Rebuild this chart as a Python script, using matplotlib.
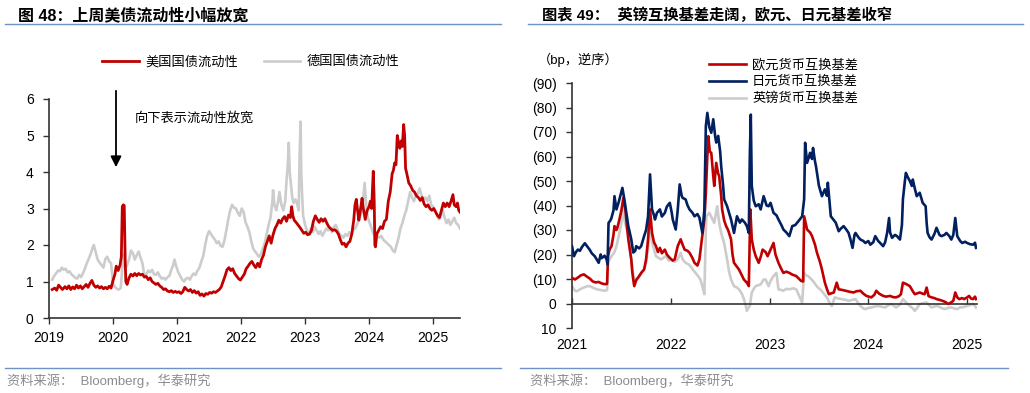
import matplotlib
matplotlib.use("Agg")
import matplotlib.pyplot as plt
from matplotlib.lines import Line2D
from matplotlib.ticker import FuncFormatter

plt.rcParams["font.family"] = ["Liberation Sans", "Noto Sans CJK SC", "DejaVu Sans"]

# ---- 图48 数据: 美国/德国国债流动性 (年份小数) ----
us_x = [2019.05, 2019.09, 2019.12, 2019.15, 2019.18, 2019.21, 2019.25, 2019.28, 2019.31, 2019.34,
        2019.37, 2019.40, 2019.43, 2019.46, 2019.49, 2019.52, 2019.55, 2019.58, 2019.61, 2019.64,
        2019.67, 2019.70, 2019.73, 2019.76, 2019.79, 2019.82, 2019.85, 2019.88, 2019.91, 2019.94,
        2019.97, 2020.00, 2020.03, 2020.05, 2020.08, 2020.11, 2020.13, 2020.145, 2020.16, 2020.175,
        2020.19, 2020.20, 2020.22, 2020.25, 2020.28, 2020.31, 2020.34, 2020.37, 2020.40, 2020.43,
        2020.46, 2020.49, 2020.52, 2020.55, 2020.58, 2020.61, 2020.64, 2020.67, 2020.70, 2020.73,
        2020.76, 2020.79, 2020.82, 2020.85, 2020.88, 2020.91, 2020.94, 2020.97, 2021.00, 2021.03,
        2021.06, 2021.09, 2021.12, 2021.15, 2021.18, 2021.21, 2021.24, 2021.27, 2021.30, 2021.33,
        2021.36, 2021.39, 2021.42, 2021.45, 2021.48, 2021.51, 2021.54, 2021.57, 2021.60, 2021.63,
        2021.66, 2021.69, 2021.72, 2021.75, 2021.78, 2021.81, 2021.84, 2021.87, 2021.90, 2021.93,
        2021.96, 2021.99, 2022.02, 2022.05, 2022.08, 2022.11, 2022.14, 2022.17, 2022.20, 2022.23,
        2022.26, 2022.29, 2022.32, 2022.35, 2022.38, 2022.41, 2022.44, 2022.47, 2022.50, 2022.53,
        2022.56, 2022.59, 2022.62, 2022.65, 2022.68, 2022.71, 2022.74, 2022.77, 2022.79, 2022.81,
        2022.83, 2022.86, 2022.89, 2022.92, 2022.95, 2022.98, 2023.01, 2023.04, 2023.07, 2023.10,
        2023.13, 2023.16, 2023.19, 2023.22, 2023.25, 2023.28, 2023.31, 2023.34, 2023.37, 2023.40,
        2023.43, 2023.46, 2023.49, 2023.52, 2023.55, 2023.58, 2023.61, 2023.64, 2023.67, 2023.70,
        2023.73, 2023.76, 2023.78, 2023.80, 2023.82, 2023.84, 2023.86, 2023.89, 2023.91, 2023.94,
        2023.97, 2024.00, 2024.02, 2024.04, 2024.065, 2024.08, 2024.09, 2024.10, 2024.12, 2024.15,
        2024.18, 2024.21, 2024.24, 2024.27, 2024.30, 2024.33, 2024.36, 2024.38, 2024.40, 2024.42,
        2024.44, 2024.46, 2024.48, 2024.50, 2024.52, 2024.54, 2024.555, 2024.57, 2024.59, 2024.62,
        2024.65, 2024.68, 2024.71, 2024.74, 2024.77, 2024.80, 2024.83, 2024.86, 2024.89, 2024.92,
        2024.95, 2024.98, 2025.01, 2025.04, 2025.07, 2025.10, 2025.13, 2025.16, 2025.19, 2025.22,
        2025.25, 2025.28, 2025.31, 2025.33, 2025.36, 2025.38, 2025.40, 2025.42]
us_y = [0.78, 0.82, 0.76, 0.90, 0.84, 0.78, 0.86, 0.80, 0.88, 0.78,
        0.85, 0.80, 0.90, 0.82, 0.88, 0.80, 0.86, 0.92, 0.84, 0.95,
        1.03, 0.90, 0.84, 0.88, 0.82, 0.86, 0.80, 0.84, 0.80, 0.87,
        0.82, 1.03, 1.20, 1.42, 1.30, 1.45, 1.68, 3.05, 3.10, 3.08,
        1.60, 1.00, 0.92, 1.10, 1.20, 1.15, 1.22, 1.16, 1.22, 1.18,
        1.20, 1.12, 1.14, 1.05, 1.10, 1.00, 0.96, 0.92, 0.95, 0.88,
        0.84, 0.78, 0.80, 0.74, 0.72, 0.75, 0.70, 0.73, 0.70, 0.72,
        0.67, 0.72, 0.84, 0.78, 0.74, 0.78, 0.70, 0.75, 0.68, 0.72,
        0.62, 0.66, 0.60, 0.67, 0.65, 0.70, 0.68, 0.72, 0.70, 0.74,
        0.78, 0.85, 1.00, 1.15, 1.32, 1.38, 1.30, 1.35, 1.22, 1.15,
        1.08, 1.04, 1.12, 1.20, 1.35, 1.42, 1.50, 1.55, 1.45, 1.38,
        1.50, 1.40, 1.60, 1.72, 1.95, 2.10, 2.25, 2.05, 2.28, 2.45,
        2.55, 2.68, 2.60, 2.72, 2.78, 2.65, 2.82, 2.75, 3.05, 2.80,
        2.68, 2.62, 2.55, 2.48, 2.40, 2.32, 2.35, 2.28, 2.30, 2.40,
        2.65, 2.80, 2.70, 2.62, 2.72, 2.65, 2.72, 2.60, 2.50, 2.45,
        2.40, 2.42, 2.38, 2.30, 2.15, 2.02, 2.05, 1.95, 2.05, 2.10,
        2.30, 2.68, 3.10, 3.25, 2.95, 2.68, 2.90, 3.28, 3.00, 2.70,
        2.95, 3.05, 3.20, 3.00, 4.02, 3.20, 2.00, 1.95, 2.30, 2.40,
        2.50, 2.45, 2.65, 2.70, 3.20, 3.45, 3.95, 4.05, 4.25, 4.20,
        5.00, 4.80, 4.65, 4.85, 4.70, 5.30, 5.00, 4.10, 3.95, 3.70,
        3.62, 3.50, 3.45, 3.35, 3.30, 3.22, 3.30, 3.12, 3.05, 3.10,
        3.00, 2.95, 3.00, 2.90, 2.80, 2.75, 2.95, 3.15, 3.05, 3.15,
        3.05, 3.20, 3.38, 3.10, 3.05, 3.15, 2.95, 2.90]

de_x = [2019.05, 2019.08, 2019.11, 2019.14, 2019.17, 2019.20, 2019.23, 2019.26, 2019.29, 2019.32,
        2019.35, 2019.38, 2019.41, 2019.44, 2019.47, 2019.50, 2019.53, 2019.56, 2019.59, 2019.62,
        2019.65, 2019.68, 2019.70, 2019.73, 2019.76, 2019.79, 2019.82, 2019.85, 2019.88, 2019.91,
        2019.94, 2019.97, 2020.00, 2020.03, 2020.06, 2020.09, 2020.12, 2020.15, 2020.17, 2020.19,
        2020.22, 2020.25, 2020.28, 2020.31, 2020.34, 2020.37, 2020.40, 2020.43, 2020.46, 2020.49,
        2020.52, 2020.55, 2020.58, 2020.61, 2020.64, 2020.67, 2020.70, 2020.73, 2020.76, 2020.79,
        2020.82, 2020.85, 2020.88, 2020.91, 2020.94, 2020.96, 2020.99, 2021.02, 2021.05, 2021.08,
        2021.11, 2021.14, 2021.17, 2021.20, 2021.23, 2021.26, 2021.29, 2021.32, 2021.35, 2021.38,
        2021.41, 2021.44, 2021.47, 2021.50, 2021.53, 2021.56, 2021.59, 2021.62, 2021.65, 2021.68,
        2021.71, 2021.74, 2021.77, 2021.80, 2021.83, 2021.86, 2021.89, 2021.92, 2021.95, 2021.98,
        2022.01, 2022.04, 2022.07, 2022.10, 2022.13, 2022.16, 2022.19, 2022.22, 2022.25, 2022.28,
        2022.31, 2022.34, 2022.37, 2022.40, 2022.43, 2022.46, 2022.49, 2022.50, 2022.52, 2022.55,
        2022.58, 2022.60, 2022.63, 2022.66, 2022.69, 2022.71, 2022.73, 2022.745, 2022.76, 2022.78,
        2022.80, 2022.82, 2022.85, 2022.88, 2022.90, 2022.915, 2022.93, 2022.94, 2022.955, 2022.97,
        2023.00, 2023.03, 2023.06, 2023.09, 2023.12, 2023.15, 2023.18, 2023.21, 2023.24, 2023.27,
        2023.30, 2023.33, 2023.36, 2023.39, 2023.42, 2023.45, 2023.48, 2023.51, 2023.54, 2023.57,
        2023.60, 2023.63, 2023.66, 2023.69, 2023.72, 2023.75, 2023.78, 2023.81, 2023.84, 2023.87,
        2023.90, 2023.93, 2023.95, 2023.98, 2024.01, 2024.04, 2024.07, 2024.10, 2024.13, 2024.16,
        2024.19, 2024.22, 2024.25, 2024.28, 2024.31, 2024.34, 2024.37, 2024.40, 2024.43, 2024.46,
        2024.49, 2024.52, 2024.55, 2024.58, 2024.61, 2024.64, 2024.67, 2024.70, 2024.73, 2024.76,
        2024.79, 2024.82, 2024.85, 2024.88, 2024.91, 2024.94, 2024.97, 2025.00, 2025.03, 2025.06,
        2025.09, 2025.12, 2025.15, 2025.18, 2025.21, 2025.24, 2025.27, 2025.30, 2025.33, 2025.36,
        2025.39, 2025.42]
de_y = [1.05, 1.15, 1.22, 1.30, 1.28, 1.38, 1.32, 1.35, 1.25, 1.28,
        1.20, 1.15, 1.10, 1.08, 1.18, 1.12, 1.22, 1.35, 1.50, 1.62,
        1.75, 1.92, 2.00, 1.80, 1.60, 1.52, 1.45, 1.38, 1.62, 1.68,
        1.55, 1.50, 0.95, 0.85, 0.80, 0.78, 0.82, 1.50, 1.75, 1.36,
        1.45, 1.60, 1.85, 1.78, 1.60, 1.72, 1.82, 1.65, 1.50, 1.15,
        1.20, 1.30, 1.25, 1.32, 1.20, 1.18, 1.25, 1.15, 1.08, 1.10,
        1.05, 1.12, 1.15, 1.32, 1.45, 1.60, 1.40, 1.25, 1.15, 1.05,
        1.00, 1.08, 1.10, 1.05, 1.15, 1.22, 1.18, 1.30, 1.38, 1.55,
        1.70, 2.00, 2.25, 2.38, 2.30, 2.22, 2.15, 2.05, 2.10, 1.98,
        1.95, 2.12, 2.40, 2.70, 2.95, 3.10, 3.02, 3.00, 2.88, 2.80,
        3.00, 2.90, 2.62, 2.50, 2.35, 2.10, 1.90, 1.82, 1.75, 1.68,
        1.75, 1.90, 2.05, 2.30, 2.55, 2.75, 3.20, 3.50, 3.10, 2.95,
        3.20, 3.45, 3.10, 2.95, 3.20, 3.75, 4.20, 4.80, 4.00, 3.65,
        3.30, 3.15, 3.25, 3.10, 2.95, 4.50, 5.38, 4.00, 3.30, 2.80,
        2.55, 2.40, 2.30, 2.45, 2.35, 2.50, 2.40, 2.30, 2.38, 2.25,
        2.35, 2.45, 2.40, 2.45, 2.35, 2.50, 2.55, 2.40, 2.30, 2.25,
        2.20, 2.30, 2.25, 2.35, 2.28, 2.40, 2.45, 2.55, 2.70, 2.85,
        3.10, 3.70, 3.20, 2.75, 2.60, 2.45, 2.30, 2.35, 2.25, 2.20,
        2.25, 2.15, 2.10, 2.05, 2.00, 1.95, 1.85, 1.80, 2.00, 2.20,
        2.45, 2.60, 2.80, 2.95, 3.20, 3.45, 3.30, 3.20, 3.35, 3.40,
        3.55, 3.35, 3.25, 3.30, 3.20, 3.35, 3.10, 3.05, 2.95, 2.85,
        2.70, 2.80, 2.95, 2.75, 2.60, 2.70, 2.55, 2.65, 2.75, 2.60,
        2.55, 2.45]

years_left = [2019, 2020, 2021, 2022, 2023, 2024, 2025]

# ---- 图表49 数据: 货币互换基差 (bp) ----
eur_x = [2021.00, 2021.03, 2021.06, 2021.09, 2021.12, 2021.15, 2021.18, 2021.21, 2021.24, 2021.27,
         2021.30, 2021.33, 2021.355, 2021.365, 2021.38, 2021.40, 2021.42, 2021.43, 2021.45, 2021.46,
         2021.48, 2021.50, 2021.52, 2021.54, 2021.555, 2021.57, 2021.585, 2021.60, 2021.61, 2021.62,
         2021.63, 2021.65, 2021.68, 2021.70, 2021.73, 2021.75, 2021.77, 2021.79, 2021.81, 2021.83,
         2021.85, 2021.87, 2021.89, 2021.91, 2021.94, 2021.96, 2021.99, 2022.02, 2022.04, 2022.07,
         2022.10, 2022.12, 2022.14, 2022.17, 2022.19, 2022.22, 2022.24, 2022.27, 2022.29, 2022.31,
         2022.34, 2022.355, 2022.37, 2022.38, 2022.395, 2022.41, 2022.43, 2022.44, 2022.46, 2022.48,
         2022.49, 2022.51, 2022.52, 2022.54, 2022.56, 2022.58, 2022.61, 2022.625, 2022.64, 2022.67,
         2022.69, 2022.72, 2022.74, 2022.77, 2022.79, 2022.805, 2022.82, 2022.84, 2022.86, 2022.89,
         2022.91, 2022.93, 2022.96, 2022.98, 2023.01, 2023.04, 2023.06, 2023.09, 2023.12, 2023.14,
         2023.17, 2023.20, 2023.23, 2023.27, 2023.30, 2023.32, 2023.34, 2023.35, 2023.37, 2023.38,
         2023.41, 2023.43, 2023.46, 2023.48, 2023.51, 2023.53, 2023.56, 2023.58, 2023.60, 2023.63,
         2023.65, 2023.68, 2023.70, 2023.74, 2023.77, 2023.81, 2023.85, 2023.88, 2023.92, 2023.95,
         2023.98, 2024.03, 2024.06, 2024.08, 2024.11, 2024.15, 2024.18, 2024.22, 2024.25, 2024.28,
         2024.31, 2024.33, 2024.35, 2024.38, 2024.42, 2024.45, 2024.47, 2024.50, 2024.52, 2024.55,
         2024.57, 2024.59, 2024.61, 2024.64, 2024.67, 2024.69, 2024.72, 2024.75, 2024.78, 2024.81,
         2024.84, 2024.86, 2024.88, 2024.90, 2024.92, 2024.95, 2024.97, 2025.00, 2025.02, 2025.04,
         2025.06, 2025.08, 2025.09]
eur_y = [-10.5, -9.8, -10.6, -11.5, -11.9, -11.0, -10.2, -9.0, -8.6, -8.8,
         -8.2, -7.9, -8.0, -19.3, -22.0, -23.4, -28.0, -31.6, -30.0, -31.0,
         -34.3, -38.0, -43.1, -38.4, -32.0, -26.2, -22.0, -18.0, -13.0, -9.8,
         -7.1, -9.5, -11.2, -12.5, -13.9, -18.0, -26.2, -38.4, -28.8, -25.0,
         -23.4, -21.0, -22.7, -20.5, -22.0, -20.0, -18.6, -17.5, -18.0, -23.4,
         -26.2, -24.0, -22.0, -21.5, -20.7, -18.5, -16.6, -15.5, -18.0, -24.7,
         -34.3, -45.0, -60.1, -68.3, -62.0, -61.5, -52.0, -48.0, -57.4, -53.0,
         -52.0, -44.0, -38.4, -34.0, -31.6, -30.0, -26.2, -20.0, -16.6, -15.0,
         -13.9, -11.5, -9.8, -8.5, -7.1, -38.4, -26.2, -22.0, -19.3, -16.6,
         -19.0, -22.0, -21.0, -19.3, -22.0, -24.7, -20.0, -16.6, -14.0, -12.5,
         -13.0, -12.5, -11.8, -11.2, -10.0, -9.2, -9.0, -35.6, -32.0, -30.2,
         -29.0, -27.5, -24.0, -20.7, -17.0, -13.9, -8.5, -6.0, -3.8, -4.2,
         -4.5, -8.5, -5.8, -5.5, -5.2, -4.8, -4.5, -5.0, -5.2, -4.0,
         -3.1, -2.5, -3.5, -5.2, -4.0, -3.1, -2.8, -3.1, -2.6, -2.5,
         -3.0, -3.8, -8.5, -8.0, -7.1, -5.0, -3.8, -4.2, -4.5, -4.0,
         -3.8, -6.5, -3.0, -2.5, -2.2, -1.8, -1.5, -1.1, -0.6, 0.2,
         -0.5, -1.1, -4.5, -2.5, -1.8, -2.2, -1.8, -2.5, -3.1, -2.0,
         -1.8, -2.8, -1.8]

jpy_x = [2021.00, 2021.02, 2021.04, 2021.06, 2021.08, 2021.10, 2021.13, 2021.15, 2021.18, 2021.20,
         2021.23, 2021.25, 2021.27, 2021.29, 2021.30, 2021.33, 2021.35, 2021.36, 2021.37, 2021.39,
         2021.40, 2021.42, 2021.43, 2021.45, 2021.47, 2021.48, 2021.51, 2021.53, 2021.55, 2021.57,
         2021.59, 2021.60, 2021.62, 2021.64, 2021.65, 2021.68, 2021.70, 2021.73, 2021.75, 2021.77,
         2021.79, 2021.81, 2021.83, 2021.84, 2021.86, 2021.89, 2021.91, 2021.94, 2021.96, 2021.99,
         2022.01, 2022.02, 2022.05, 2022.07, 2022.09, 2022.11, 2022.12, 2022.15, 2022.17, 2022.19,
         2022.22, 2022.24, 2022.27, 2022.29, 2022.32, 2022.34, 2022.355, 2022.37, 2022.39, 2022.41,
         2022.43, 2022.45, 2022.46, 2022.48, 2022.50, 2022.51, 2022.53, 2022.54, 2022.57, 2022.59,
         2022.61, 2022.64, 2022.67, 2022.70, 2022.72, 2022.75, 2022.77, 2022.79, 2022.80, 2022.81,
         2022.82, 2022.84, 2022.86, 2022.89, 2022.91, 2022.94, 2022.97, 2022.99, 2023.01, 2023.04,
         2023.07, 2023.09, 2023.12, 2023.14, 2023.17, 2023.20, 2023.23, 2023.26, 2023.28, 2023.31,
         2023.33, 2023.35, 2023.36, 2023.38, 2023.40, 2023.41, 2023.43, 2023.44, 2023.46, 2023.47,
         2023.50, 2023.53, 2023.56, 2023.58, 2023.59, 2023.61, 2023.62, 2023.65, 2023.67, 2023.70,
         2023.72, 2023.75, 2023.78, 2023.80, 2023.82, 2023.84, 2023.86, 2023.87, 2023.90, 2023.92,
         2023.95, 2023.97, 2024.00, 2024.02, 2024.05, 2024.07, 2024.10, 2024.12, 2024.15, 2024.17,
         2024.19, 2024.21, 2024.22, 2024.24, 2024.27, 2024.29, 2024.32, 2024.34, 2024.35, 2024.37,
         2024.38, 2024.40, 2024.42, 2024.44, 2024.45, 2024.47, 2024.49, 2024.52, 2024.55, 2024.58,
         2024.59, 2024.60, 2024.62, 2024.64, 2024.67, 2024.69, 2024.72, 2024.74, 2024.77, 2024.79,
         2024.82, 2024.84, 2024.86, 2024.88, 2024.90, 2024.93, 2024.95, 2024.98, 2025.00, 2025.03,
         2025.06, 2025.08, 2025.09]
jpy_y = [-23.4, -19.3, -21.0, -22.0, -21.5, -23.0, -24.6, -23.5, -21.9, -20.5,
         -19.3, -18.0, -16.6, -20.0, -18.5, -19.5, -18.0, -16.0, -32.9, -34.0,
         -35.0, -38.0, -43.8, -38.4, -41.0, -42.5, -47.2, -42.5, -37.0, -31.6,
         -28.0, -26.2, -20.8, -21.5, -23.4, -22.5, -23.4, -27.5, -30.0, -35.6,
         -52.7, -38.4, -36.0, -34.3, -37.0, -38.4, -35.5, -37.0, -39.5, -41.1,
         -37.0, -34.3, -30.2, -38.0, -48.6, -44.0, -43.1, -42.5, -40.0, -38.4,
         -37.0, -35.6, -36.5, -35.0, -28.8, -38.4, -72.4, -77.8, -72.0, -69.7,
         -75.2, -68.0, -65.7, -68.4, -62.0, -56.2, -48.0, -42.5, -39.7, -37.0,
         -34.3, -28.8, -35.6, -33.0, -34.3, -33.0, -31.6, -28.8, -60.0, -77.1,
         -48.0, -42.0, -39.7, -40.5, -38.4, -43.8, -40.0, -39.7, -41.1, -37.0,
         -36.0, -34.3, -32.0, -30.2, -29.0, -27.5, -31.6, -32.0, -33.0, -34.5,
         -35.6, -42.5, -65.6, -57.4, -60.0, -61.5, -59.0, -63.5, -58.0, -56.0,
         -48.0, -43.8, -46.6, -44.0, -49.3, -40.0, -35.6, -34.0, -33.0, -29.5,
         -30.5, -31.6, -30.0, -28.8, -26.0, -22.7, -28.0, -28.8, -27.0, -26.1,
         -25.5, -24.7, -25.5, -24.0, -25.0, -27.5, -25.5, -24.7, -23.4, -25.0,
         -28.8, -34.9, -29.0, -26.8, -28.0, -27.5, -26.1, -32.0, -42.5, -50.0,
         -53.3, -51.5, -50.0, -48.0, -50.6, -47.0, -43.8, -45.2, -41.1, -39.7,
         -33.0, -28.8, -27.0, -26.1, -28.5, -30.9, -28.0, -27.5, -28.0, -28.8,
         -27.5, -26.1, -28.0, -34.9, -27.5, -25.5, -24.7, -25.2, -24.7, -24.2,
         -24.0, -24.8, -22.7]

gbp_x = [2021.00, 2021.03, 2021.05, 2021.09, 2021.12, 2021.15, 2021.18, 2021.21, 2021.25, 2021.29,
         2021.33, 2021.355, 2021.365, 2021.38, 2021.40, 2021.43, 2021.45, 2021.48, 2021.50, 2021.51,
         2021.53, 2021.55, 2021.57, 2021.59, 2021.60, 2021.62, 2021.63, 2021.65, 2021.67, 2021.70,
         2021.72, 2021.74, 2021.75, 2021.77, 2021.79, 2021.81, 2021.82, 2021.85, 2021.88, 2021.90,
         2021.93, 2021.95, 2021.98, 2022.00, 2022.04, 2022.07, 2022.10, 2022.12, 2022.15, 2022.18,
         2022.20, 2022.23, 2022.25, 2022.28, 2022.30, 2022.32, 2022.34, 2022.355, 2022.36, 2022.39,
         2022.42, 2022.44, 2022.47, 2022.49, 2022.51, 2022.54, 2022.57, 2022.59, 2022.61, 2022.64,
         2022.67, 2022.69, 2022.72, 2022.74, 2022.76, 2022.77, 2022.79, 2022.80, 2022.82, 2022.84,
         2022.86, 2022.89, 2022.91, 2022.94, 2022.96, 2022.99, 2023.01, 2023.04, 2023.07, 2023.09,
         2023.12, 2023.14, 2023.17, 2023.20, 2023.24, 2023.27, 2023.30, 2023.33, 2023.35, 2023.37,
         2023.39, 2023.42, 2023.44, 2023.47, 2023.49, 2023.52, 2023.54, 2023.57, 2023.59, 2023.61,
         2023.63, 2023.66, 2023.70, 2023.73, 2023.77, 2023.80, 2023.84, 2023.87, 2023.90, 2023.92,
         2023.95, 2023.97, 2024.00, 2024.03, 2024.07, 2024.10, 2024.14, 2024.17, 2024.20, 2024.23,
         2024.26, 2024.28, 2024.32, 2024.35, 2024.38, 2024.42, 2024.45, 2024.47, 2024.50, 2024.52,
         2024.56, 2024.59, 2024.62, 2024.64, 2024.67, 2024.70, 2024.74, 2024.77, 2024.81, 2024.84,
         2024.87, 2024.90, 2024.93, 2024.95, 2024.98, 2025.00, 2025.03, 2025.06, 2025.08, 2025.09]
gbp_y = [-7.1, -5.2, -5.0, -6.0, -6.5, -7.0, -7.1, -6.5, -5.8, -5.5,
         -5.2, -5.5, -16.6, -18.0, -19.3, -21.0, -23.4, -28.8, -33.0, -39.7,
         -34.3, -31.0, -28.8, -22.0, -18.0, -12.0, -9.8, -10.2, -10.5, -12.0,
         -13.2, -15.0, -16.6, -22.0, -32.9, -25.0, -23.4, -19.3, -18.5, -18.0,
         -18.8, -19.3, -17.5, -18.0, -17.0, -18.0, -20.7, -18.0, -16.6, -16.0,
         -15.2, -13.5, -12.5, -11.0, -9.8, -7.0, -3.8, -30.0, -35.6, -37.0,
         -34.5, -32.9, -39.7, -33.0, -28.8, -24.7, -18.0, -13.0, -9.8, -7.1,
         -6.5, -5.8, -4.0, -1.8, 1.0, 3.0, 1.5, 1.0, -4.5, -6.0,
         -7.1, -7.5, -7.8, -9.8, -9.8, -7.1, -9.2, -11.2, -12.5, -5.8,
         -5.5, -5.2, -6.0, -5.8, -6.2, -5.8, -3.1, -0.4, -12.5, -11.5,
         -11.2, -10.0, -9.2, -7.5, -6.5, -5.5, -4.5, -3.0, -1.8, 0.0,
         1.0, -2.5, -2.0, -1.8, -1.5, -1.1, -1.5, -1.8, 0.0, 1.0,
         2.0, 2.3, 1.8, 1.6, 1.2, 1.0, 1.4, 1.6, 0.8, 0.2,
         1.0, 1.6, 0.5, -1.8, -0.5, 1.0, 2.0, 3.0, 1.5, 0.2,
         -0.2, -0.4, 0.8, 1.6, 1.2, 1.0, 1.8, 2.3, 1.8, 1.6,
         2.0, 2.3, 1.5, 1.6, 1.2, 1.0, 0.6, 0.2, 1.0, 1.6]

years_right = [2021, 2022, 2023, 2024, 2025]
basis_ticks = [-90, -80, -70, -60, -50, -40, -30, -20, -10, 0, 10]

RED = "#C00000"
GREY = "#CCCCCC"
NAVY = "#002060"
RULE = "#6F93C4"
AXC = "#333333"
W, H = 1030, 393

fig = plt.figure(figsize=(W / 100, H / 100), dpi=100)


def px(x, y):
    return x / W, 1 - y / H


def style_axes(ax):
    for s in ["top", "right"]:
        ax.spines[s].set_visible(False)
    for s in ["left", "bottom"]:
        ax.spines[s].set_color(AXC)
        ax.spines[s].set_linewidth(1.2)
    ax.tick_params(colors=AXC, labelcolor="black", labelsize=10, width=1.0, length=4)


# ---------- 左图 ----------
ax1 = fig.add_axes([49 / W, 1 - 318 / H, (460 - 49) / W, (318 - 99) / H])
style_axes(ax1)
ax1.plot(de_x, de_y, color=GREY, lw=1.9, label="德国国债流动性", zorder=2)
ax1.plot(us_x, us_y, color=RED, lw=2.0, label="美国国债流动性", zorder=3)
ax1.set_xlim(2019, 2025.42)
ax1.set_ylim(0, 6)
ax1.set_xticks(years_left)
ax1.set_xticklabels([str(y) for y in years_left])
ax1.set_yticks(range(0, 7))
ax1.tick_params(axis="x", pad=5)
ax1.tick_params(axis="y", pad=7)
h1, l1 = ax1.get_legend_handles_labels()
ax1.legend(h1[::-1], l1[::-1], ncol=2, frameon=False, fontsize=9.5, loc="center",
           bbox_to_anchor=px(251, 62), bbox_transform=fig.transFigure,
           handlelength=2.8, handletextpad=0.5, columnspacing=1.9, borderpad=0)
ax1.annotate("", xy=(0.163, 0.676), xytext=(0.163, 1.05), xycoords="axes fraction",
             arrowprops=dict(arrowstyle="-|>", color="black", lw=1.3, mutation_scale=16),
             annotation_clip=False)
ax1.text(0.209, 0.913, "向下表示流动性放宽", transform=ax1.transAxes, fontsize=9.5,
         va="center", ha="left")

# ---------- 右图 ----------
ax2 = fig.add_axes([572 / W, 1 - 328 / H, (977 - 572) / W, (328 - 83) / H])
style_axes(ax2)
l_gbp, = ax2.plot(gbp_x, gbp_y, color=GREY, lw=1.9, label="英镑货币互换基差", zorder=2)
l_eur, = ax2.plot(eur_x, eur_y, color=RED, lw=1.9, label="欧元货币互换基差", zorder=3)
l_jpy, = ax2.plot(jpy_x, jpy_y, color=NAVY, lw=1.9, label="日元货币互换基差", zorder=4)
ax2.set_xlim(2021, 2025.1)
ax2.set_ylim(10, -90)
ax2.set_yticks(basis_ticks)
ax2.yaxis.set_major_formatter(FuncFormatter(lambda v, p: f"({abs(v):.0f})" if v < 0 else f"{v:.0f}"))
ax2.set_xticks(years_right)
ax2.set_xticklabels([str(y) for y in years_right])
ax2.spines["bottom"].set_position(("data", 0))
ax2.tick_params(axis="x", direction="in", pad=25)
ax2.tick_params(axis="y", pad=7)
ax2.legend(handles=[l_eur, l_jpy, l_gbp], frameon=False, fontsize=9.5, loc="upper left",
           bbox_to_anchor=px(702, 52), bbox_transform=fig.transFigure,
           handlelength=2.8, handletextpad=0.5, labelspacing=0.35, borderpad=0)
fig.text(*px(538, 60), "（bp，逆序）", fontsize=9.5, va="center", ha="left")

# ---------- 标题、分隔线、来源 ----------
fig.text(*px(18, 15), "图 48：上周美债流动性小幅放宽", fontsize=11.5, fontweight="bold",
         va="center", ha="left")
fig.text(*px(542, 15), "图表 49：  英镑互换基差走阔，欧元、日元基差收窄", fontsize=11,
         fontweight="bold", va="center", ha="left")
for x0, x1, y in [(5, 501, 24), (528, 1023, 24), (5, 501, 368), (520, 1008, 368)]:
    fig.add_artist(Line2D([x0 / W, x1 / W], [1 - y / H, 1 - y / H], color=RULE, lw=1.0))
for x0 in [7, 530]:
    fig.text(*px(x0, 381), "资料来源：  Bloomberg，华泰研究", fontsize=9.5, color="#8C8C8C",
             va="center", ha="left")

fig.savefig("out.png", dpi=100)
